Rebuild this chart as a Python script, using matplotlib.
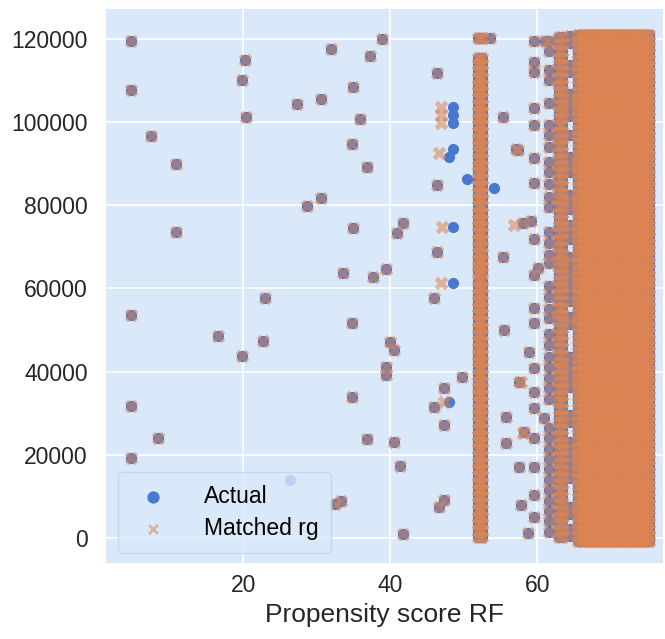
import itertools
import matplotlib
matplotlib.use("Agg")
import matplotlib.pyplot as plt

# points where actual and matched coincide (x = propensity score, y in thousands)
both_x = [4.8, 4.8, 7.4, 10.8, 10.8, 20.2, 19.9, 20.4, 27.3, 30.6, 32.0, 28.7, 30.6,
          22.9, 4.8, 16.6, 22.7, 19.9, 4.8, 8.4, 4.8, 32.5, 33.3, 38.9, 37.3, 35.0,
          35.9, 34.8, 36.9, 46.4, 46.4, 35.0, 41.8, 40.9, 46.4, 45.9, 33.6, 37.6,
          39.4, 34.8, 40.0, 40.5, 39.4, 39.4, 34.8, 36.9, 40.5, 41.3, 41.7, 49.7,
          47.3, 45.9, 47.3, 47.3, 46.6, 55.4, 57.4, 55.3, 55.5, 55.7, 55.7, 53.5,
          59.1, 58.1, 60.1, 58.9, 57.5, 60.9, 58.2, 57.5, 57.8, 58.7, 57.1, 61.0]
both_y = [119.5, 107.7, 96.6, 89.9, 73.6, 114.9, 110.0, 101.2, 104.4, 105.6, 117.5,
          79.8, 81.8, 57.7, 53.6, 48.6, 47.4, 43.8, 31.8, 24.0, 19.2, 8.2, 8.9,
          120.0, 115.9, 108.4, 100.7, 94.7, 89.2, 111.8, 84.9, 74.5, 75.7, 73.3,
          68.8, 57.7, 63.7, 62.7, 64.6, 51.7, 47.1, 45.2, 41.1, 39.2, 33.9, 23.8,
          23.1, 17.3, 1.0, 38.7, 36.1, 31.5, 27.2, 9.1, 7.5, 101.2, 93.3, 67.6,
          50.0, 29.1, 22.8, 120.2, 76.3, 75.7, 64.9, 44.7, 37.5, 28.8, 25.5, 17.0,
          7.9, 1.2, 93.5, 119.5]

# actual points without a matched twin at the same spot
actual_only_x = [48.5, 48.5, 48.5, 48.5, 48.0, 50.4, 54.1, 48.6, 48.6, 48.0, 26.4]
actual_only_y = [103.6, 101.7, 99.8, 93.5, 91.6, 86.3, 84.1, 74.7, 61.3, 32.7, 13.9]

# matched points without an actual twin
matched_only_x = [46.9, 46.9, 46.9, 46.6, 47.1, 46.9, 47.3, 56.8, 57.8, 58.0]
matched_only_y = [103.6, 101.7, 99.8, 92.5, 74.7, 61.3, 32.7, 75.2, 37.5, 25.2]

# vertical band near 52
band52_x = [51.9, 52.2, 52.5]
band52_y = [0.3, 1.8, 3.5, 5.0, 6.8, 8.4, 10.1, 11.6, 13.2, 15.0, 16.5, 18.1, 19.7,
            21.4, 23.0, 24.6, 26.1, 27.9, 29.5, 31.0, 32.8, 34.3, 36.0, 37.6, 39.2,
            40.8, 42.5, 44.1, 45.7, 47.2, 49.0, 50.6, 52.1, 53.8, 55.5, 57.0, 58.7,
            60.3, 61.8, 64.0, 65.2, 66.9, 68.4, 70.1, 71.7, 73.3, 75.0, 76.5, 78.2,
            79.8, 81.4, 83.0, 84.7, 86.3, 87.9, 89.5, 91.2, 92.8, 94.4, 96.0, 97.7,
            99.3, 100.9, 102.5, 104.1, 105.8, 107.4, 109.0, 110.6, 112.3, 113.9,
            115.5, 120.2]

# sparse columns near 59.5 and 61.6
col59_y = [119.5, 114.4, 112.0, 103.4, 99.3, 91.3, 85.3, 72.0, 63.2, 55.3, 51.7,
           40.9, 35.1, 31.3, 24.0, 17.0, 10.3, 5.0]
col61_y = [119.5, 117.0, 112.5, 110.0, 104.5, 99.3, 97.0, 94.0, 90.5, 88.0, 85.0,
           82.0, 79.5, 73.5, 71.0, 68.0, 66.0, 60.5, 58.0, 55.0, 53.0, 49.0, 46.5,
           43.5, 41.0, 38.5, 36.0, 33.5, 26.5, 24.0, 21.5, 19.0, 16.5, 14.0, 11.5,
           9.0, 6.5, 4.0, 1.5]

# full stripe near 63 and the broken one near 64.5
col63_x = [62.9, 63.3]
col63_y = [0.2, 1.8, 3.4, 5.1, 6.6, 8.3, 9.9, 11.5, 13.1, 14.8, 16.4, 18.0, 19.6,
           21.3, 22.9, 24.5, 26.1, 27.8, 29.4, 31.0, 32.6, 34.3, 35.9, 37.5, 39.1,
           40.8, 42.4, 44.0, 45.6, 47.3, 48.9, 50.5, 52.1, 53.8, 55.4, 57.0, 58.6,
           60.3, 61.9, 63.5, 65.1, 66.8, 68.4, 70.0, 71.6, 73.3, 74.9, 76.5, 78.1,
           79.8, 81.4, 83.0, 84.6, 86.3, 87.9, 89.5, 91.1, 92.8, 94.4, 96.0, 97.6,
           99.3, 100.9, 102.5, 104.1, 105.8, 107.4, 109.0, 110.6, 112.3, 113.9,
           115.5, 117.1, 118.8, 120.4]
col64_y = [0.5, 2.2, 5.8, 7.5, 14.5, 16.2, 18.0, 19.8, 21.5, 23.0, 28.0, 29.5,
           36.2, 38.0, 39.8, 41.6, 43.4, 51.5, 53.2, 57.0, 58.8, 60.6, 62.4, 64.2,
           66.0, 67.5, 72.0, 73.8, 75.3, 79.0, 80.8, 82.5, 88.0, 89.8, 91.6, 97.0,
           101.5, 103.3, 105.1, 106.8, 112.0, 113.8, 119.0, 120.6]

# dense block of scores 65-75
dense_x = [65.6, 65.9, 66.2, 66.4, 66.7, 67.0, 67.3, 67.5, 67.8, 68.1, 68.4, 68.7,
           68.9, 69.2, 69.5, 69.8, 70.0, 70.3, 70.6, 70.9, 71.1, 71.4, 71.7, 72.0,
           72.3, 72.5, 72.8, 73.1, 73.4, 73.6, 73.9, 74.2, 74.5, 74.7, 75.0, 75.2]
dense_y = [-0.8, 0.6, 2.1, 3.6, 5.2, 6.7, 8.2, 9.7, 11.3, 12.8, 14.3, 15.8, 17.4,
           18.9, 20.4, 21.9, 23.5, 25.0, 26.5, 28.0, 29.6, 31.1, 32.6, 34.1, 35.7,
           37.2, 38.7, 40.2, 41.8, 43.3, 44.8, 46.3, 47.9, 49.4, 50.9, 52.4, 54.0,
           55.5, 57.0, 58.5, 60.1, 61.6, 63.1, 64.6, 66.2, 67.7, 69.2, 70.7, 72.3,
           73.8, 75.3, 76.8, 78.4, 79.9, 81.4, 82.9, 84.5, 86.0, 87.5, 89.0, 90.6,
           92.1, 93.6, 95.1, 96.7, 98.2, 99.7, 101.2, 102.8, 104.3, 105.8, 107.3,
           108.9, 110.4, 111.9, 113.4, 115.0, 116.5, 118.0, 119.5, 121.0]

# assemble the shared points
shared_x = list(both_x)
shared_y = list(both_y)
columns = [(xv, band52_y) for xv in band52_x] + [(59.5, col59_y), (61.6, col61_y)]
columns += [(xv, col63_y) for xv in col63_x] + [(64.5, col64_y)]
for xv, ys in columns:
    shared_x += [xv] * len(ys)
    shared_y += ys
for xv, yv in itertools.product(dense_x, dense_y):
    shared_x.append(xv)
    shared_y.append(yv)

act_x = shared_x + actual_only_x
act_y = [v * 1000 for v in shared_y + actual_only_y]
mat_x = shared_x + matched_only_x
mat_y = [v * 1000 for v in shared_y + matched_only_y]

blue = "#4878d0"
orange = "#dd8452"

plt.rcParams['font.family'] = ['Liberation Sans', 'DejaVu Sans']
fig = plt.figure(figsize=(6.65, 6.39), dpi=100)
ax = fig.add_axes([0.159, 0.119, 0.838, 0.867])
ax.set_facecolor("#dae9fa")
ax.grid(True, color="white", linewidth=1.2)
ax.set_axisbelow(True)
for sp in ax.spines.values():
    sp.set_visible(False)

ax.scatter(act_x, act_y, s=65, color=blue, marker="o", linewidths=0, label="Actual")
ax.scatter(mat_x, mat_y, s=55, color=orange, marker="x", linewidths=3.5, alpha=0.55,
           label="Matched rg")

ax.set_xlim(1.3, 77.1)
ax.set_ylim(-6000, 127200)
ax.set_xticks([20, 40, 60])
ax.set_yticks([0, 20000, 40000, 60000, 80000, 100000, 120000])
ax.tick_params(length=0, labelsize=16.5, colors="#262626")
ax.tick_params(axis="x", pad=8)
ax.tick_params(axis="y", pad=13)
ax.set_xlabel("Propensity score RF", fontsize=19, color="#262626", labelpad=4)

leg = ax.legend(loc="lower left", fontsize=16.5, frameon=True, facecolor="#dae9fa",
                edgecolor="#c2d4ea", framealpha=0.8, borderpad=0.55, labelspacing=0.4,
                handletextpad=1.2, borderaxespad=0.3, markerscale=0.85,
                bbox_to_anchor=(0.009, 0.006))
for h in leg.legend_handles:
    h.set_linewidth(2)

fig.savefig("out.png", dpi=100)
